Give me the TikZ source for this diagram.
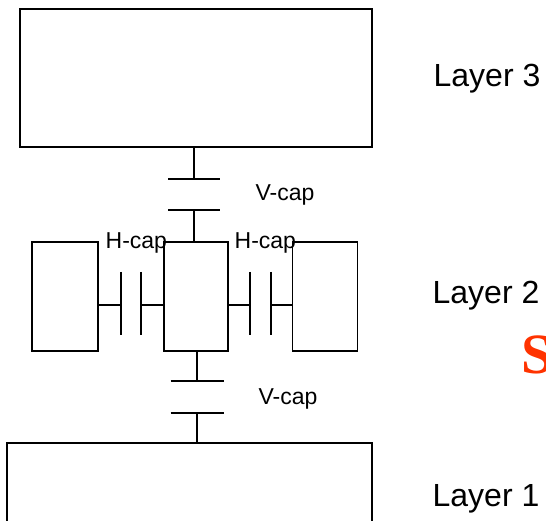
\documentclass[tikz,border=0pt]{standalone}
\usepackage{fontspec}
\setmainfont{Liberation Sans}
\newfontfamily\timesfont{Liberation Serif}
\usepackage{tikz}
\definecolor{slidered}{RGB}{255,51,0}

\begin{document}
\begin{tikzpicture}[x=1pt, y=-1pt, line width=1.3pt,
    layerbox/.style={draw, minimum width=#1, minimum height=109pt, inner sep=0pt},
    caplabel/.style={anchor=base west, inner sep=0pt, font=\fontsize{23}{23}\selectfont},
    layerlabel/.style={anchor=base west, inner sep=0pt, font=\fontsize{32}{32}\selectfont}]
        \useasboundingbox (0,0) rectangle (546,521);

        % the three layers
        \node[draw, minimum width=352pt, minimum height=138pt] (top) at (196,78) {};
        \node[layerbox=66pt] (left) at (65,296.5) {};
        \node[layerbox=64pt] (mid) at (196,296.5) {};
        \node[layerbox=65pt] (right) at (325,296.5) {};
        \node[draw, minimum width=365pt, minimum height=87pt] (bottom) at (189.5,486.5) {};

        % vertical caps
        \coordinate (vt1) at (194,179);
        \coordinate (vt2) at (194,210);
        \draw (top.south -| vt1) -- (vt1);
        \draw ([xshift=-26pt]vt1) -- ([xshift=26pt]vt1);
        \draw ([xshift=-26pt]vt2) -- ([xshift=26pt]vt2);
        \draw (vt2) -- (mid.north -| vt2);

        \coordinate (vb1) at (197,381);
        \coordinate (vb2) at (197,413);
        \draw (mid.south -| vb1) -- (vb1);
        \draw ([xshift=-26.5pt]vb1) -- ([xshift=26.5pt]vb1);
        \draw ([xshift=-26.5pt]vb2) -- ([xshift=26.5pt]vb2);
        \draw (vb2) -- (bottom.north -| vb2);

        % horizontal caps
        \coordinate (hl1) at (121,305);
        \coordinate (hl2) at (141,305);
        \draw (left.east |- hl1) -- (hl1);
        \draw ([yshift=33pt]hl1) -- ([yshift=-30pt]hl1);
        \draw ([yshift=33pt]hl2) -- ([yshift=-30pt]hl2);
        \draw (hl2) -- (mid.west |- hl2);

        \coordinate (hr1) at (250,305);
        \coordinate (hr2) at (271,305);
        \draw (mid.east |- hr1) -- (hr1);
        \draw ([yshift=33pt]hr1) -- ([yshift=-30pt]hr1);
        \draw ([yshift=33pt]hr2) -- ([yshift=-30pt]hr2);
        \draw (hr2) -- (right.west |- hr2);

        % labels
        \node[caplabel] (vcaptop) at (255,201) {V-cap};
        \node[caplabel] (vcapbot) at (258,404) {V-cap};
        \node[caplabel] (hcapleft) at (105,249) {H-cap};
        \node[caplabel] (hcapright) at (234,249) {H-cap};
        \node[layerlabel] (lay3) at (433,87) {Layer 3};
        \node[layerlabel] (lay2) at (432,303) {Layer 2};
        \node[layerlabel] (lay1) at (432,506) {Layer 1};
        \node[anchor=base west, inner sep=0pt, text=slidered,
              font=\timesfont\bfseries\fontsize{57}{57}\selectfont] (sig) at (521,373) {S};
    \end{tikzpicture}
\end{document}
